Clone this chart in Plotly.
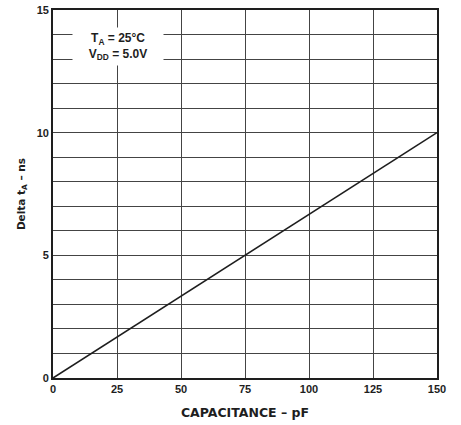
import plotly.graph_objects as go

capacitance_pf = [0, 150]
delta_ta_ns = [0, 10]
x_ticks = [0, 25, 50, 75, 100, 125, 150]
y_ticks = [0, 5, 10, 15]

FONT = "Liberation Sans, Arial, sans-serif"
TFONT = "DejaVu Sans, sans-serif"
INK = "#1e1e1e"

fig = go.Figure()
fig.add_trace(go.Scatter(x=capacitance_pf, y=delta_ta_ns, mode="lines",
                         line=dict(color=INK, width=1.6), showlegend=False))

fig.add_annotation(x=7.5, y=13.5, xref="x", yref="y", xanchor="left",
                   text="<b>T<sub>A</sub> = 25°C<br>V<sub>DD</sub> = 5.0V</b>",
                   showarrow=False, align="center", bgcolor="white",
                   borderpad=3, width=84,
                   font=dict(family=FONT, size=12, color=INK))

fig.update_xaxes(range=[0, 150], tickvals=x_ticks,
                 ticktext=["<b>%d</b>" % v for v in x_ticks],
                 showgrid=True, gridcolor="#444", gridwidth=1.2,
                 showline=True, linecolor=INK, linewidth=1.8, mirror=True,
                 ticks="", zeroline=False, automargin=False,
                 ticklabeloverflow="allow",
                 tickfont=dict(family=FONT, size=11, color=INK),
                 title=dict(text="<b>CAPACITANCE – pF</b>", standoff=14,
                            font=dict(family=TFONT, size=12.5, color=INK)))
fig.update_yaxes(range=[0, 15], tickvals=y_ticks,
                 ticktext=["<b>%d</b>" % v for v in y_ticks],
                 showgrid=True, gridcolor="#444", gridwidth=1.2,
                 minor=dict(showgrid=True, dtick=1, tick0=0, gridcolor="#444", gridwidth=1.2),
                 showline=True, linecolor=INK, linewidth=1.8, mirror=True,
                 ticks="", zeroline=False, automargin=False,
                 ticklabeloverflow="allow",
                 tickfont=dict(family=FONT, size=11, color=INK),
                 title=dict(text="<b>Delta t<sub>A</sub> – ns</b>", standoff=9,
                            font=dict(family=TFONT, size=10.5, color=INK)))

fig.update_layout(width=461, height=425, margin=dict(l=53, r=24, t=10, b=47),
                  paper_bgcolor="white", plot_bgcolor="white")

# remove the browser's default 8px body margin so the figure fills the window
fig.write_html("out.html", config={"displayModeBar": False},
               post_script="document.body.style.margin='0';")
